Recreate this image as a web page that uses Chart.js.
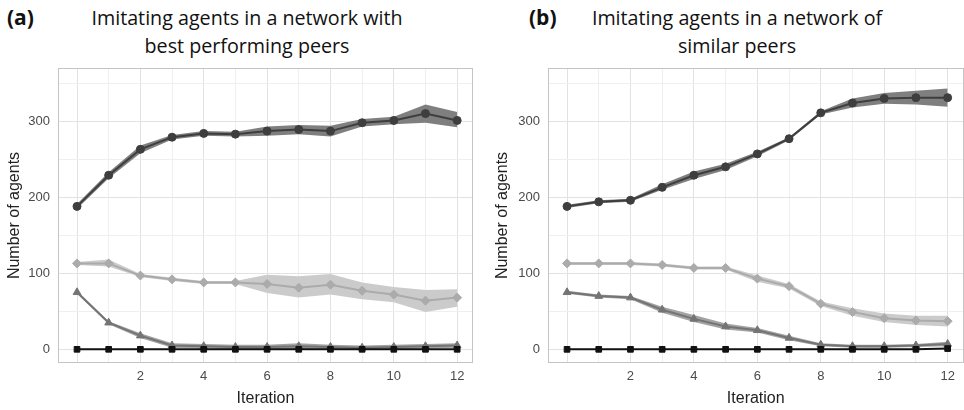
<!DOCTYPE html>
<html><head><meta charset="utf-8">
<script src="https://cdn.jsdelivr.net/npm/chart.js@4/dist/chart.umd.min.js"></script>
<style>
html,body{margin:0;padding:0;background:#fff;width:964px;height:410px;overflow:hidden;position:relative}
.t{position:absolute;font-family:"Open Sans","Noto Sans",sans-serif;color:#111;white-space:nowrap;transform:translate(-50%,-50%)}
.lab{position:absolute;font-family:"Open Sans","Noto Sans",sans-serif;font-weight:bold;color:#111;font-size:21px;transform:translateY(-50%)}
canvas{position:absolute}
</style></head><body>
<div class="lab" style="left:7px;top:17px">(a)</div>
<div class="t" style="left:247px;top:17px;font-size:19.7px">Imitating agents in a network with</div>
<div class="t" style="left:247px;top:45px;font-size:19.7px">best performing peers</div>
<div class="lab" style="left:529px;top:17px">(b)</div>
<div class="t" style="left:737px;top:17px;font-size:19.7px">Imitating agents in a network of</div>
<div class="t" style="left:737px;top:45px;font-size:19.7px">similar peers</div>
<div style="position:absolute;left:0;top:60px;width:480px;height:350px"><canvas id="ca"></canvas></div>
<div style="position:absolute;left:480px;top:60px;width:489px;height:350px"><canvas id="cb"></canvas></div>
<script>
const iterations = [0,1,2,3,4,5,6,7,8,9,10,11,12];
const yTickLabels = [0,100,200,300];
const xTickLabels = [2,4,6,8,10,12];

// Panel (a): network with best performing peers
const a_s1 = [188,229,263,279,284,283,287,289,287,298,301,310,301];
const a_s1_hi = [191,233,268,282,287,286,293,295,294,303,306,322,312];
const a_s1_lo = [185,225,258,276,281,280,281,283,280,293,296,298,292];
const a_s2 = [113,113,97,92,88,88,86,81,85,77,72,64,68];
const a_s2_hi = [115,118,99,94,90,90,98,96,99,88,82,78,79];
const a_s2_lo = [111,109,95,90,86,86,74,68,72,66,62,49,56];
const a_s3 = [75,35,18,5,4,3,3,4,3,2,3,4,5];
const a_s3_hi = [77,37,21,8,7,6,6,8,6,5,6,7,8];
const a_s3_lo = [73,33,15,2,1,0,0,0,0,0,0,1,2];
const a_s4 = [0,0,0,0,0,0,0,0,0,0,0,0,0];

// Panel (b): network of similar peers
const b_s1 = [188,194,196,213,229,240,257,277,311,324,330,331,331];
const b_s1_hi = [190,196,198,217,234,244,260,279,313,330,337,340,343];
const b_s1_lo = [186,192,194,210,224,236,254,275,309,318,323,322,319];
const b_s2 = [113,113,113,111,107,107,93,83,60,49,41,38,37];
const b_s2_hi = [115,115,115,113,109,109,97,86,63,54,47,44,44];
const b_s2_lo = [111,111,111,109,105,105,89,80,57,44,36,32,30];
const b_s3 = [75,70,68,52,40,30,25,15,6,4,4,5,7];
const b_s3_hi = [77,72,70,56,45,34,28,18,8,6,6,7,10];
const b_s3_lo = [73,68,66,48,36,26,22,12,4,2,2,3,4];
const b_s4 = [0,0,0,0,0,0,0,0,0,0,0,0,1];

const pts = arr => arr.map((v,i)=>({x:iterations[i], y:v}));

const borderPlugin = {
  id:'panelBorder',
  afterDraw(chart){
    const {ctx, chartArea:a} = chart;
    ctx.save();
    ctx.strokeStyle = '#c4c4c4';
    ctx.lineWidth = 1;
    ctx.strokeRect(Math.round(a.left)+0.5, Math.round(a.top)+0.5, Math.round(a.right-a.left)-1, Math.round(a.bottom-a.top)-1);
    ctx.restore();
  }
};

function bandSets(hi, lo, color){
  return [
    {data:pts(hi), borderWidth:0, pointRadius:0, fill:false, order:10, showLine:true, borderColor:'rgba(0,0,0,0)'},
    {data:pts(lo), borderWidth:0, pointRadius:0, fill:'-1', backgroundColor:color, order:10, showLine:true, borderColor:'rgba(0,0,0,0)'}
  ];
}
function lineSet(vals, color, style, r, ord){
  return {data:pts(vals), borderColor:color, backgroundColor:color, pointBackgroundColor:color, pointBorderColor:color,
    borderWidth:2, pointStyle:style, pointRadius:r, pointBorderWidth:1, fill:false, order:ord, showLine:true};
}

function makeChart(id, d, yWidth, padRight, yTitlePad){
  const datasets = [
    ...bandSets(d.s1hi, d.s1lo, '#7f7f7f'),
    ...bandSets(d.s2hi, d.s2lo, '#cbcbcb'),
    ...bandSets(d.s3hi, d.s3lo, '#a3a3a3'),
    lineSet(d.s4, '#111111', 'rect', 4, 0),
    lineSet(d.s3, '#747474', 'triangle', 4.5, 2),
    lineSet(d.s2, '#ababab', 'rectRot', 4.5, 3),
    lineSet(d.s1, '#3e3e3e', 'circle', 4, 1)
  ];
  return new Chart(document.getElementById(id), {
    type:'scatter',
    data:{datasets},
    plugins:[borderPlugin],
    options:{
      responsive:true, maintainAspectRatio:false, animation:false,
      layout:{padding:{top:8,right:padRight,left:0,bottom:0}},
      plugins:{legend:{display:false}, tooltip:{enabled:false}},
      scales:{
        x:{type:'linear', min:-0.6, max:12.5,
          afterBuildTicks(s){ s.ticks = iterations.map(v=>({value:v})); },
          afterFit(s){ s.height = 47; s.paddingLeft = 0; s.paddingRight = 0; },
          ticks:{padding:6, color:'#4a4a4a', font:{family:'"Liberation Sans", Arial, sans-serif', size:13},
            autoSkip:false, maxRotation:0,
            callback:v => xTickLabels.includes(v) ? String(v) : ''},
          grid:{drawTicks:false, color:c => (c.tick && c.tick.value % 2 === 0) ? '#e2e2e2' : '#efefef', lineWidth:1},
          border:{display:false},
          title:{display:true, text:'Iteration', color:'#222', padding:{top:0,bottom:2},
            font:{family:'"Liberation Sans", Arial, sans-serif', size:16}}
        },
        y:{type:'linear', min:-18, max:370,
          afterBuildTicks(s){ const t=[]; for(const v of [0,50,100,150,200,250,300,350]) t.push({value:v}); s.ticks = t; },
          afterFit(s){ s.width = yWidth; s.paddingTop = 0; s.paddingBottom = 0; },
          ticks:{padding:8, color:'#4a4a4a', font:{family:'"Liberation Sans", Arial, sans-serif', size:13},
            autoSkip:false,
            callback:v => yTickLabels.includes(v) ? String(v) : ''},
          grid:{drawTicks:false, color:c => (c.tick && c.tick.value % 100 === 0) ? '#e2e2e2' : '#efefef', lineWidth:1},
          border:{display:false},
          title:{display:true, text:'Number of agents', color:'#222', padding:{top:yTitlePad,bottom:0},
            font:{family:'"Liberation Sans", Arial, sans-serif', size:16}}
        }
      }
    }
  });
}

makeChart('ca', {s1:a_s1,s1hi:a_s1_hi,s1lo:a_s1_lo,s2:a_s2,s2hi:a_s2_hi,s2lo:a_s2_lo,s3:a_s3,s3hi:a_s3_hi,s3lo:a_s3_lo,s4:a_s4}, 58, 7, 5);
makeChart('cb', {s1:b_s1,s1hi:b_s1_hi,s1lo:b_s1_lo,s2:b_s2,s2hi:b_s2_hi,s2lo:b_s2_lo,s3:b_s3,s3hi:b_s3_hi,s3lo:b_s3_lo,s4:b_s4}, 68, 1, 13);
</script>
</body></html>
